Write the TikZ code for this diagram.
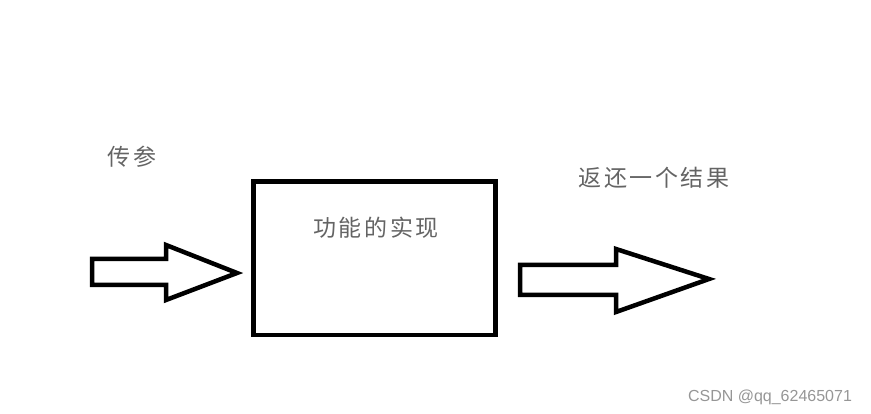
\documentclass[tikz,border=0pt]{standalone}
\usepackage{fontspec}
\setsansfont{Liberation Sans}
\newfontfamily\cjk[LetterSpace=11]{Noto Sans CJK SC}
\definecolor{labelgray}{RGB}{100,100,100}
\definecolor{markgray}{RGB}{150,150,150}
\usetikzlibrary{positioning}

\begin{document}
\begin{tikzpicture}[x=1pt,y=-1pt,
    outline/.style={draw=black, line width=4.5pt, line join=miter},
    cnlabel/.style={font=\cjk\fontsize{23}{26}\selectfont, text=labelgray, inner sep=0pt}]
    \useasboundingbox (0,0) rectangle (871,414);
    % function box
    \node[outline, minimum width=242pt, minimum height=153.5pt, inner sep=0pt] (impl) at (374.5,258.25) {};
    \node[cnlabel] (impllabel) at (376,228) {功能的实现};
    % input arrow
    \draw[outline] (92,259) -- (166,259) -- (166,245) -- (237,273) -- (166,300) -- (166,285) -- (92,285) -- cycle;
    \node[cnlabel] (inlabel) at (132,157) {传参};
    % output arrow
    \draw[outline] (520,265) -- (616,265) -- (616,249) -- (709,279) -- (616,312) -- (616,295) -- (520,295) -- cycle;
    \node[cnlabel] (outlabel) at (654,178) {返还一个结果};
    % watermark
    \node[font=\sffamily\fontsize{16}{18}\selectfont, text=markgray, inner sep=0pt] (mark) at (770,397) {CSDN @qq\_62465071};
\end{tikzpicture}
\end{document}
